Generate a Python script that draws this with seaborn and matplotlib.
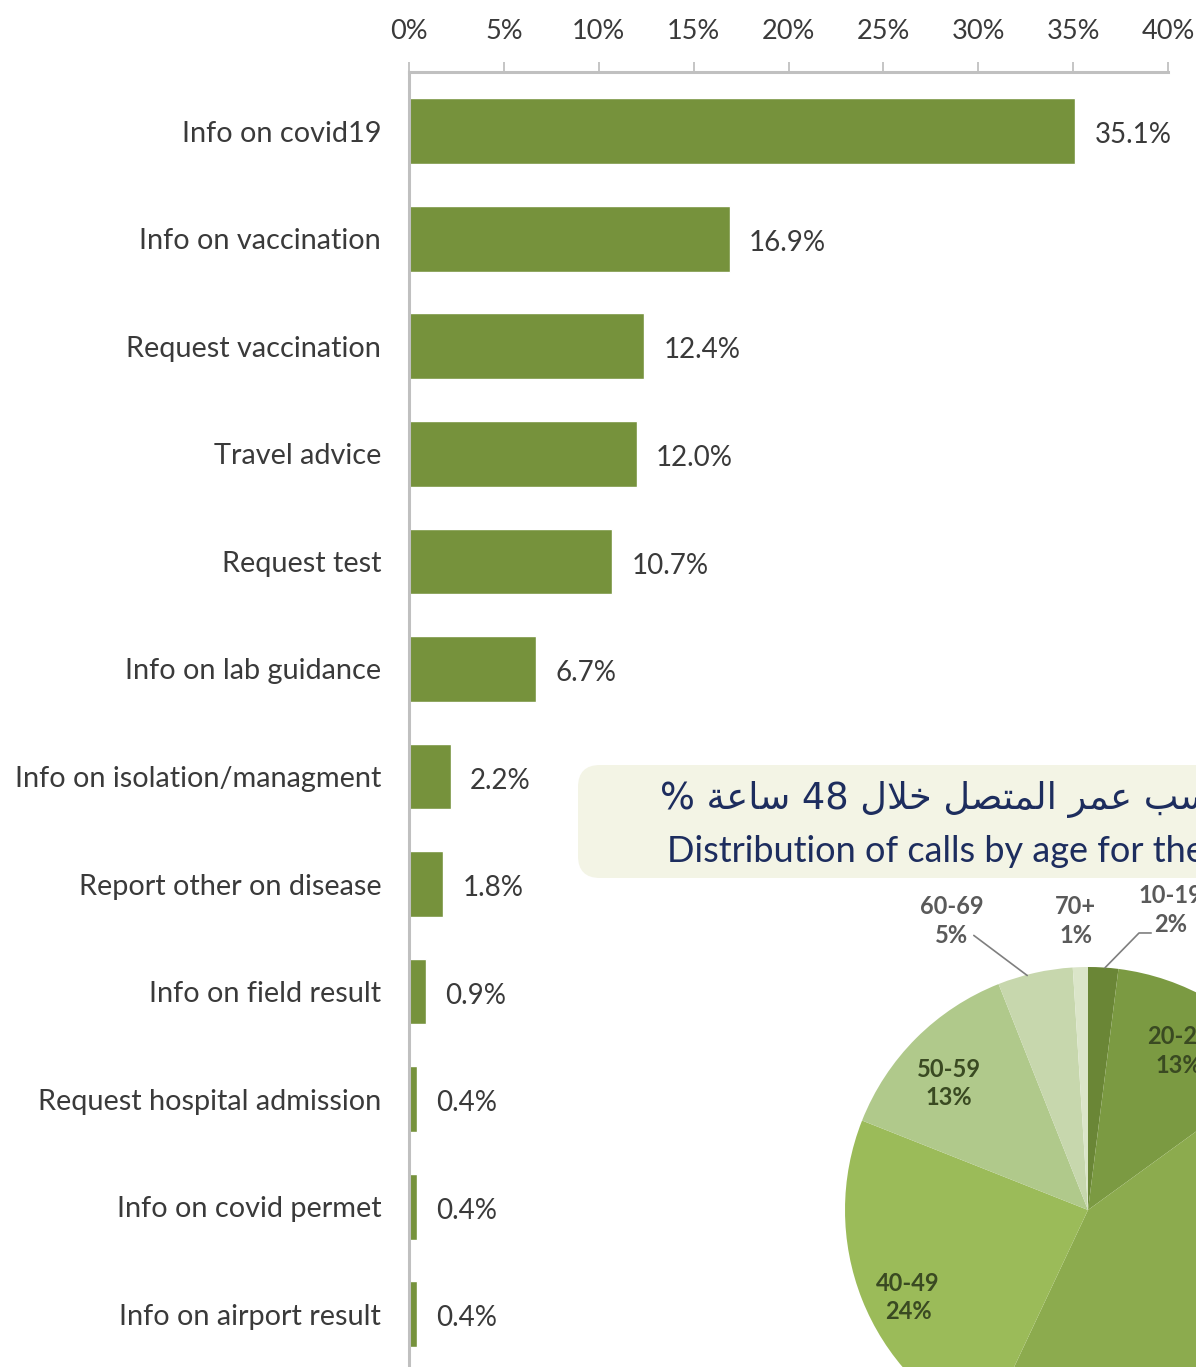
import matplotlib
matplotlib.use("Agg")
import matplotlib.pyplot as plt
import seaborn as sns
import numpy as np
import pandas as pd
from matplotlib.patches import FancyBboxPatch
from matplotlib.ticker import FixedLocator

# ---------------- data ----------------
categories = [
    "Info on covid19", "Info on vaccination", "Request vaccination",
    "Travel advice", "Request test", "Info on lab guidance",
    "Info on isolation/managment", "Report other on disease",
    "Info on field result", "Request hospital admission",
    "Info on covid permet", "Info on airport result",
]
values = [35.1, 16.9, 12.4, 12.0, 10.7, 6.7, 2.2, 1.8, 0.9, 0.4, 0.4, 0.4]
x_ticks = [0, 5, 10, 15, 20, 25, 30, 35, 40]
x_tick_labels = ["0%", "5%", "10%", "15%", "20%", "25%", "30%", "35%", "40%"]

age_groups = ["10-19", "20-29", "30-39", "40-49", "50-59", "60-69", "70+"]
age_shares = [2, 13, 42, 24, 13, 5, 1]

# Arabic title in visual order (presentation forms): "حسب عمر المتصل خلال 48 ساعة %"
title_ar = "% ﺔﻋﺎﺳ 48 ﻝﻼﺧ ﻞﺼﺘﻤﻟﺍ ﺮﻤﻋ ﺐﺴﺣ"
title_en = "Distribution of calls by age for the"

# ---------------- style ----------------
bar_color = "#76923c"
pie_colors = ["#6a8636", "#7b9a42", "#8cab4e", "#9bbb59", "#b0c98b", "#c7d7ad", "#dbe5c9"]
text_gray = "#3a3a3a"
axis_gray = "#c0c0c0"

sns.set_style("white")
plt.rcParams["font.family"] = ["Lato", "DejaVu Sans"]

W, H = 1196, 1367
fig = plt.figure(figsize=(W / 100, H / 100), dpi=100)
fig.patch.set_facecolor("white")

# ---------------- bar chart ----------------
ax = fig.add_axes([409 / W, 0, (1168 - 409) / W, (H - 72) / H])
ax.set_facecolor("none")
df = pd.DataFrame({"category": categories, "value": values})
sns.barplot(data=df, x="value", y="category", orient="h", color=bar_color,
            saturation=1, width=0.61, errorbar=None, ax=ax)

ax.set_xlim(0, 40)
ax.set_ylim(11.49, -0.55)
ax.xaxis.tick_top()
ax.set_xticks(x_ticks)
ax.set_xticklabels(x_tick_labels)
ax.set_xlabel("")
ax.set_ylabel("")
ax.tick_params(axis="x", direction="out", length=7, width=1.3, color=axis_gray,
               pad=13, labelsize=19.5, labelcolor=text_gray)
ax.tick_params(axis="y", which="major", length=0, pad=20, labelsize=20.8,
               labelcolor=text_gray)
ax.yaxis.set_minor_locator(FixedLocator(np.arange(0.5, 11, 1)))
ax.tick_params(axis="y", which="minor", length=7, width=1.3, color=axis_gray)
for side in ["right", "bottom"]:
    ax.spines[side].set_visible(False)
for side in ["top", "left"]:
    ax.spines[side].set_color(axis_gray)
    ax.spines[side].set_linewidth(2.2)
ax.grid(False)

for patch, v in zip(ax.containers[0], values):
    yc = patch.get_y() + patch.get_height() / 2
    ax.annotate(f"{v:.1f}%", xy=(patch.get_width(), yc), xytext=(14, -3),
                textcoords="offset points", ha="left", va="center",
                fontsize=20, color=text_gray)

# ---------------- title box ----------------
box = FancyBboxPatch((5.78, (H - 878) / 100), 7.0, 1.13,
                     boxstyle="round,pad=0,rounding_size=0.22",
                     transform=fig.dpi_scale_trans,
                     facecolor="#f3f4e5", edgecolor="none", zorder=1)
fig.add_artist(box)
fig.text(660 / W, 1 - 800 / H, title_ar, ha="left", va="center", fontsize=26.5,
         color="#1d2d5e", family=["DejaVu Sans"], zorder=2)
fig.text(667 / W, 1 - 851 / H, title_en, ha="left", va="center", fontsize=26,
         color="#1d2d5e", zorder=2)

# ---------------- pie chart ----------------
cx, cy, R = 1088, 1210, 243
pax = fig.add_axes([(cx - R) / W, (H - cy - R) / H, 2 * R / W, 2 * R / H])
pax.pie(age_shares, colors=pie_colors, startangle=90, counterclock=False,
        radius=1, wedgeprops=dict(linewidth=0))
pax.set_xlim(-1, 1)
pax.set_ylim(-1, 1)
pax.set_aspect("equal")
pax.axis("off")

inside_pos = {"20-29": (0.375, 0.655), "40-49": (-0.74, -0.36), "50-59": (-0.573, 0.52)}
outside_pos = {"10-19": (0.34, 1.235), "70+": (-0.05, 1.19), "60-69": (-0.56, 1.19)}
leaders = {"60-69": [(-0.47, 1.13), (-0.25, 0.965)],
           "10-19": [(0.26, 1.14), (0.21, 1.14), (0.07, 0.997)]}

for name, share in zip(age_groups, age_shares):
    lab = f"{name}\n{share}%"
    if name in inside_pos:
        x, y = inside_pos[name]
        pax.text(x, y, lab, ha="center", va="center", fontsize=17,
                 fontweight="bold", color="#3a4a22", linespacing=1.3)
    elif name in outside_pos:
        x, y = outside_pos[name]
        pax.text(x, y, lab, ha="center", va="center", fontsize=17,
                 fontweight="bold", color="#5a5a5a", linespacing=1.3,
                 clip_on=False)
for name, pts in leaders.items():
    xs, ys = zip(*pts)
    pax.plot(xs, ys, color="#7f7f7f", linewidth=1.2, clip_on=False)

fig.savefig("out.png", dpi=100)
